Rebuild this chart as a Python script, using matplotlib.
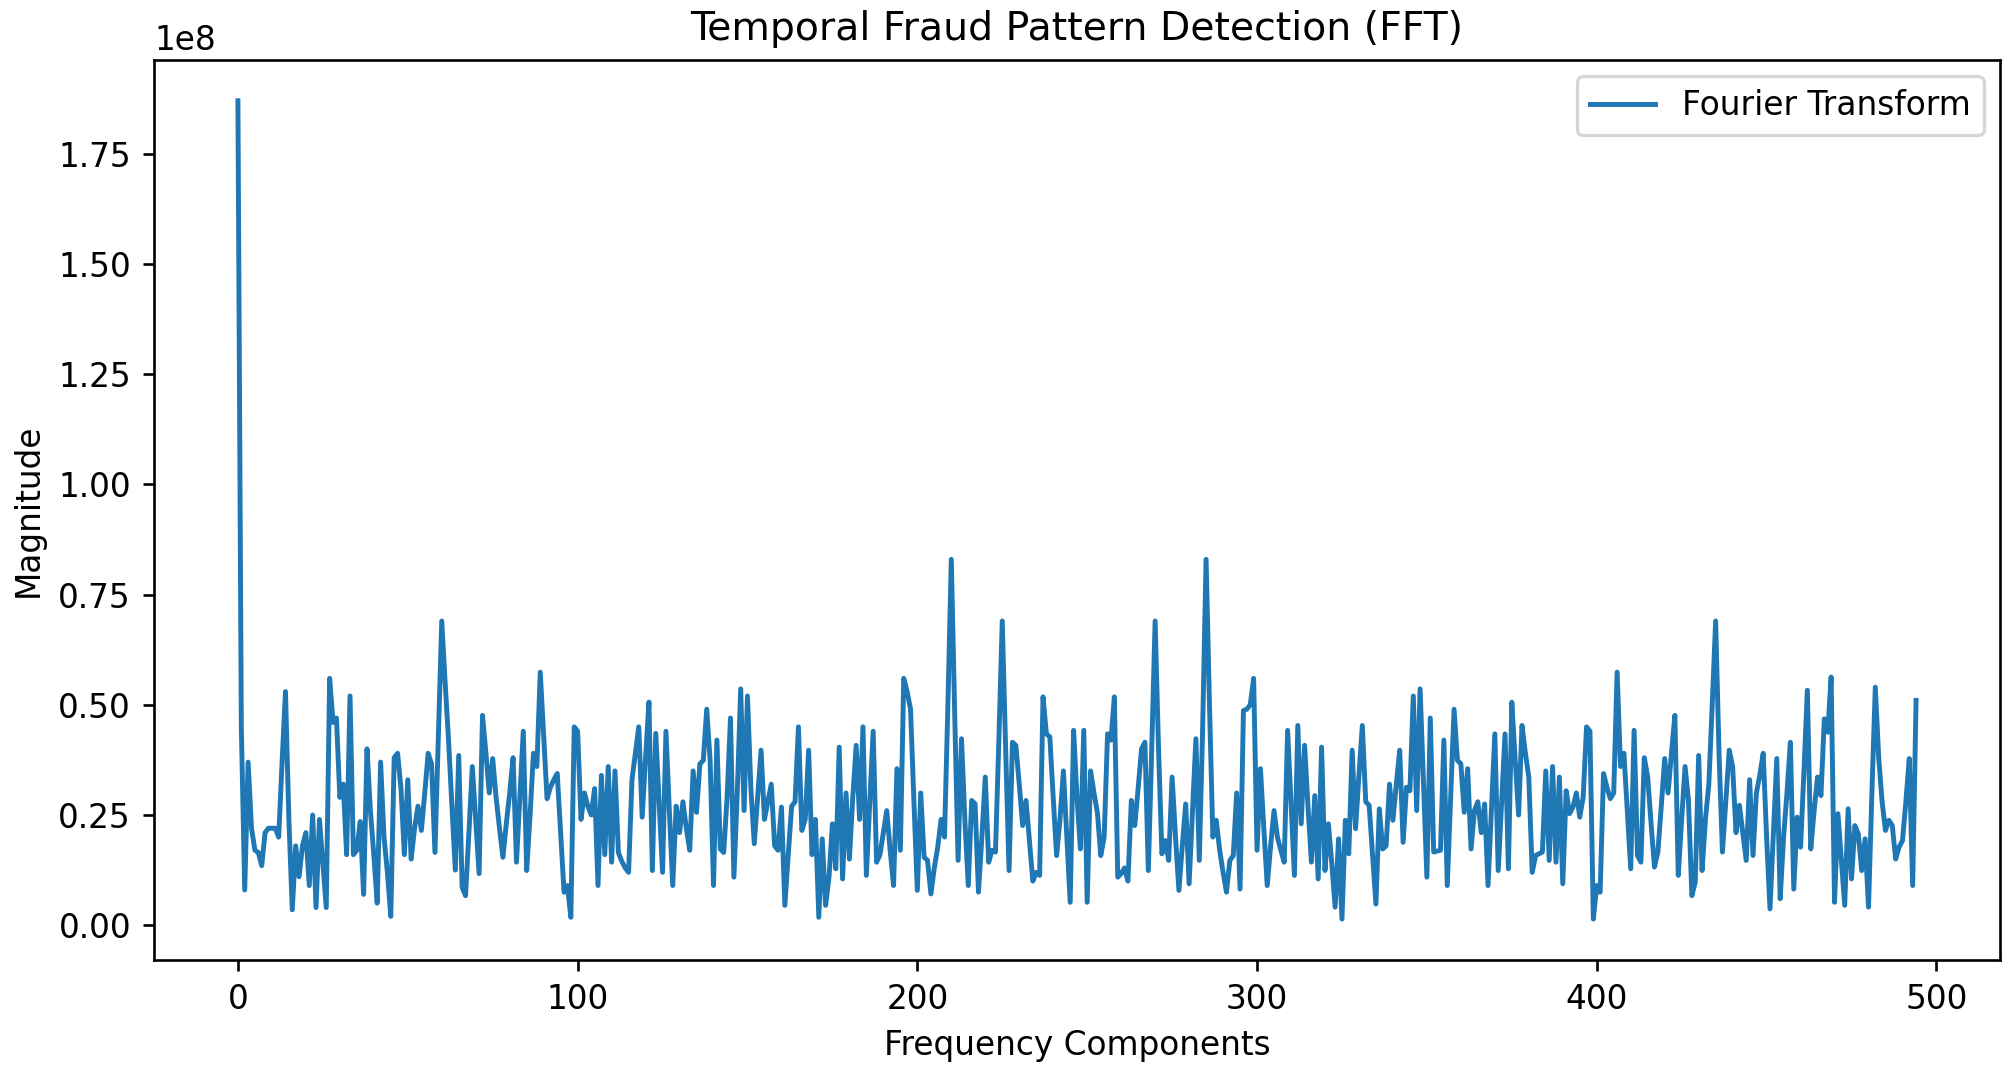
import numpy as np
import matplotlib
matplotlib.use("Agg")
import matplotlib.pyplot as plt

# Magnitudes in units of 1e7, indices 0..494
seg0 = [18.7, 4.5, 0.8, 3.7, 2.2, 1.7, 1.65, 1.35, 2.1, 2.2,
        2.2, 2.2, 2.0, 3.7, 5.3, 2.4, 0.35, 1.8, 1.1, 1.8,
        2.1, 0.9, 2.5, 0.4, 2.4, 1.4, 0.4, 5.6, 4.6, 4.7,
        2.9, 3.2, 1.6, 5.2, 1.6, 1.7, 2.35, 0.7, 4.0, 2.6,
        1.6, 0.5, 3.7, 2.0, 1.2, 0.2, 3.8, 3.9, 3.1, 1.6]
seg1 = [3.3, 1.5, 2.2, 2.7, 2.15, 3.0, 3.9, 3.66, 1.65, 4.3,
        6.9, 5.5, 4.2, 2.7, 1.25, 3.85, 0.86, 0.67, 2.1, 3.6,
        2.4, 1.17, 4.76, 3.9, 3.0, 3.78, 2.9, 2.2, 1.54, 2.3,
        3.0, 3.8, 1.43, 2.9, 4.4, 1.24, 2.5, 3.9, 3.6, 5.74,
        4.3, 2.87, 3.13, 3.3, 3.44, 2.1, 0.75, 0.9, 0.18, 4.5]
seg2 = [4.4, 2.4, 3.0, 2.7, 2.5, 3.1, 0.9, 3.4, 1.6, 3.6,
        1.43, 3.5, 1.65, 1.45, 1.3, 1.2, 3.3, 3.9, 4.5, 2.45,
        3.8, 5.06, 1.24, 4.35, 2.8, 1.2, 4.4, 2.6, 0.9, 2.7,
        2.1, 2.8, 2.2, 1.7, 3.5, 2.56, 3.66, 3.74, 4.9, 3.74,
        0.9, 4.2, 1.73, 1.65, 2.9, 4.7, 1.09, 3.0, 5.36, 2.6]
seg3 = [5.2, 3.1, 1.85, 2.9, 3.97, 2.4, 2.8, 3.2, 1.8, 1.7,
        2.68, 0.45, 1.6, 2.7, 2.8, 4.5, 2.15, 2.4, 3.97, 1.6,
        2.4, 0.18, 1.96, 0.45, 1.09, 2.3, 1.28, 4.04, 1.05, 3.0,
        1.5, 2.9, 4.08, 2.4, 4.5, 1.13, 2.8, 4.4, 1.43, 1.6,
        2.1, 2.6, 1.7, 0.9, 3.55, 1.7, 5.6, 5.3, 4.9, 2.8]
seg4 = [0.79, 3.0, 1.54, 1.47, 0.71, 1.3, 1.77, 2.4, 2.0, 5.0,
        8.3, 4.8, 1.47, 4.23, 2.38, 0.9, 2.83, 2.75, 0.75, 2.0,
        3.36, 1.43, 1.7, 1.66, 4.2, 6.9, 4.0, 1.24, 4.15, 4.08,
        3.2, 2.26, 2.83, 1.9, 1.0, 1.2, 1.13, 5.18, 4.34, 4.27,
        2.9, 1.58, 2.4, 3.5, 2.0, 0.52, 4.42, 2.9, 1.73, 4.42]
seg5 = [0.52, 3.5, 3.0, 2.56, 1.58, 2.0, 4.34, 4.2, 5.18, 1.09,
        1.17, 1.3, 1.0, 2.83, 2.26, 3.1, 4.0, 4.15, 1.24, 4.0,
        6.9, 4.0, 1.62, 1.92, 1.47, 3.36, 2.0, 0.79, 1.8, 2.75,
        0.94, 2.6, 4.23, 1.47, 4.5, 8.3, 5.0, 2.0, 2.38, 1.7,
        1.2, 0.75, 1.47, 1.58, 3.0, 0.82, 4.87, 4.9, 5.0, 5.6]
seg6 = [1.7, 3.55, 2.2, 0.9, 1.8, 2.6, 2.0, 1.7, 1.43, 4.42,
        2.8, 1.13, 4.53, 2.3, 4.08, 2.7, 1.43, 2.94, 1.05, 4.04,
        1.24, 2.3, 1.4, 0.41, 1.96, 0.14, 2.38, 1.62, 3.97, 2.19,
        3.4, 4.53, 2.8, 2.72, 1.6, 0.48, 2.64, 1.73, 1.8, 3.2,
        2.38, 3.2, 3.97, 1.88, 3.13, 3.05, 5.2, 2.6, 5.36, 3.2]
seg7 = [1.09, 4.7, 1.66, 1.68, 1.7, 4.2, 0.9, 2.9, 4.9, 3.74,
        3.66, 2.56, 3.55, 1.73, 2.6, 2.8, 2.1, 2.75, 0.9, 2.6,
        4.34, 1.24, 2.8, 4.34, 1.28, 5.06, 3.74, 2.5, 4.53, 3.9,
        3.36, 1.2, 1.58, 1.62, 1.66, 3.5, 1.47, 3.6, 1.43, 3.36,
        0.94, 3.05, 2.53, 2.68, 3.0, 2.45, 2.9, 4.5, 4.4, 0.14]
seg8 = [0.9, 0.75, 3.44, 3.13, 2.87, 3.0, 5.74, 3.6, 3.9, 2.6,
        1.28, 4.42, 1.58, 1.43, 3.8, 3.36, 2.3, 1.32, 1.66, 2.7,
        3.78, 3.0, 3.9, 4.76, 1.13, 2.4, 3.6, 2.83, 0.67, 0.98,
        3.85, 1.24, 2.4, 3.2, 5.0, 6.9, 3.9, 1.66, 2.8, 3.97,
        3.6, 2.1, 2.72, 2.1, 1.47, 3.3, 1.58, 3.0, 3.4, 3.9]
seg9 = [2.0, 0.37, 2.1, 3.78, 0.6, 2.0, 3.0, 4.15, 0.82, 2.45,
        1.77, 3.5, 5.33, 1.73, 2.6, 3.36, 2.94, 4.68, 4.38, 5.63,
        0.52, 2.53, 1.5, 0.45, 2.64, 1.05, 2.26, 2.07, 1.24, 1.96,
        0.41, 3.0, 5.4, 3.8, 2.8, 2.15, 2.38, 2.26, 1.5, 1.77,
        1.92, 2.8, 3.78, 0.9, 5.1]

magnitude = np.array(seg0 + seg1 + seg2 + seg3 + seg4 + seg5 + seg6 + seg7 + seg8 + seg9) * 1e7
freq = np.arange(len(magnitude))

DPI = 236
fig = plt.figure(figsize=(2008 / DPI, 1069 / DPI), dpi=DPI)
ax = fig.add_subplot(111)
fig.subplots_adjust(left=0.0767, right=0.996, top=0.944, bottom=0.102)

ax.plot(freq, magnitude, color="#1f77b4", linewidth=1.5, label="Fourier Transform")
ax.set_title("Temporal Fraud Pattern Detection (FFT)")
ax.set_xlabel("Frequency Components")
ax.set_ylabel("Magnitude")
ax.legend(loc="upper right")

fig.savefig("out.png", dpi=DPI)
